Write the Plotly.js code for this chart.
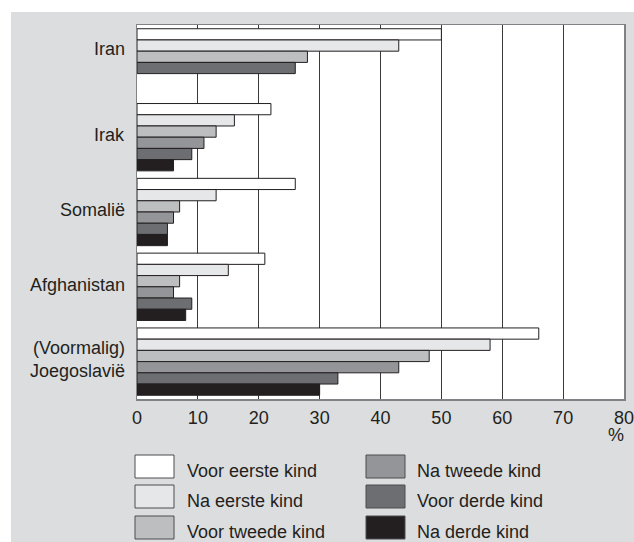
<!DOCTYPE html>
<html>
<head>
<meta charset="utf-8">
<script src="https://cdn.plot.ly/plotly-3.0.1.min.js"></script>
<style>
  html, body { margin: 0; padding: 0; background: #ffffff; width: 634px; height: 542px; overflow: hidden; }
  #chart { position: absolute; left: 11px; top: 12px; width: 640px; height: 530px; }
</style>
</head>
<body>
<div id="chart"></div>
<script>
// ---- data ----
const categories = ['Iran', 'Irak', 'Somalië', 'Afghanistan', 'Joegoslavië'];
const categoryLabels = ['Iran', 'Irak', 'Somalië', 'Afghanistan', '(Voormalig)<br>Joegoslavië'];
const seriesNames = ['Voor eerste kind', 'Na eerste kind', 'Voor tweede kind', 'Na tweede kind', 'Voor derde kind', 'Na derde kind'];
const voorEerste = [50, 22, 26, 21, 66];
const naEerste   = [43, 16, 13, 15, 58];
const voorTweede = [28, 13, 7, 7, 48];
const naTweede   = [null, 11, 6, 6, 43];
const voorDerde  = [26, 9, 5, 9, 33];
const naDerde    = [null, 6, 5, 8, 30];
const seriesValues = [voorEerste, naEerste, voorTweede, naTweede, voorDerde, naDerde];
const seriesColors = ['#ffffff', '#e6e7e8', '#bcbec0', '#939598', '#6d6e71', '#231f20'];
const xTicks = [0, 10, 20, 30, 40, 50, 60, 70, 80];

// ---- layout helpers ----
const FONT = '"Liberation Sans", Arial, Helvetica, sans-serif';
const TXT = '#231f20';
const FS = 18;
const slotWidth = 0.15;
const groupWidth = slotWidth * seriesNames.length;

// pack present bars from the top of each group
const offsets = seriesValues.map(() => categories.map(() => 0));
const presentCount = categories.map(() => 0);
categories.forEach((c, i) => {
  let slot = 0;
  seriesValues.forEach((vals, k) => {
    if (vals[i] !== null) {
      offsets[k][i] = -groupWidth / 2 + slot * slotWidth;
      slot++;
    }
  });
  presentCount[i] = slot;
});

const traces = seriesValues.map((vals, k) => ({
  type: 'bar',
  orientation: 'h',
  name: seriesNames[k],
  y: categories,
  x: vals,
  width: slotWidth,
  offset: offsets[k],
  marker: { color: seriesColors[k], line: { color: '#231f20', width: 1 } },
  showlegend: false,
  hoverinfo: 'none'
}));

// page-pixel -> paper coordinates
const W = 640, H = 530;
const M = { l: 126, r: W - 613, t: 13, b: 143 };
const PW = W - M.l - M.r, PH = H - M.t - M.b;
function px(xPage) { return (xPage - 11 - M.l) / PW; }
function py(yPage) { return (H - M.b - (yPage - 12)) / PH; }

const annotations = [];
const shapes = [];

// category labels at centre of their bars
categories.forEach((c, i) => {
  annotations.push({
    xref: 'paper', yref: 'y',
    x: 0, y: i - groupWidth / 2 + presentCount[i] * slotWidth / 2,
    xanchor: 'right', yanchor: 'middle',
    xshift: -10, yshift: 2,
    text: categoryLabels[i], showarrow: false, align: 'right',
    font: { family: FONT, size: FS, color: TXT }
  });
});

// percent sign
annotations.push({
  xref: 'paper', yref: 'paper', x: px(616), y: py(435),
  xanchor: 'center', yanchor: 'middle', text: '%', showarrow: false,
  font: { family: FONT, size: FS, color: TXT }
});

// manual legend: 2 columns x 3 rows
const legCols = [{ sx: 135, tx: 185 }, { sx: 366, tx: 415 }];
const legRows = [455, 485, 516];
seriesNames.forEach((name, k) => {
  const col = legCols[Math.floor(k / 3)];
  const rowTop = legRows[k % 3];
  shapes.push({
    type: 'rect', xref: 'paper', yref: 'paper',
    x0: px(col.sx), x1: px(col.sx + 39), y0: py(rowTop), y1: py(rowTop + 23),
    fillcolor: seriesColors[k], line: { color: '#4d4d4f', width: 1 }
  });
  annotations.push({
    xref: 'paper', yref: 'paper', x: px(col.tx), y: py(rowTop + 16),
    xanchor: 'left', yanchor: 'middle', text: name, showarrow: false,
    font: { family: FONT, size: FS, color: TXT }
  });
});

const layout = {
  width: W, height: H,
  margin: M,
  paper_bgcolor: '#dcddde',
  plot_bgcolor: '#ffffff',
  barmode: 'overlay',
  showlegend: false,
  font: { family: FONT, size: FS, color: TXT },
  xaxis: {
    range: [0, 80], tickvals: xTicks, ticktext: xTicks.map(String),
    showgrid: true, gridcolor: '#3a3a3a', gridwidth: 1.2,
    zeroline: false, showline: true, mirror: true, linecolor: '#808285', linewidth: 1.5,
    ticks: 'outside', ticklen: 2, tickcolor: 'rgba(0,0,0,0)',
    ticklabeloverflow: 'allow',
    tickfont: { family: FONT, size: FS, color: TXT }, fixedrange: true
  },
  yaxis: {
    type: 'category', range: [4.5, -0.5], showticklabels: false,
    showgrid: false, zeroline: false, showline: true, mirror: true,
    linecolor: '#808285', linewidth: 1.5, ticks: '', fixedrange: true
  },
  shapes: shapes,
  annotations: annotations
};

Plotly.newPlot('chart', traces, layout, { displayModeBar: false, staticPlot: true });
</script>
</body>
</html>
